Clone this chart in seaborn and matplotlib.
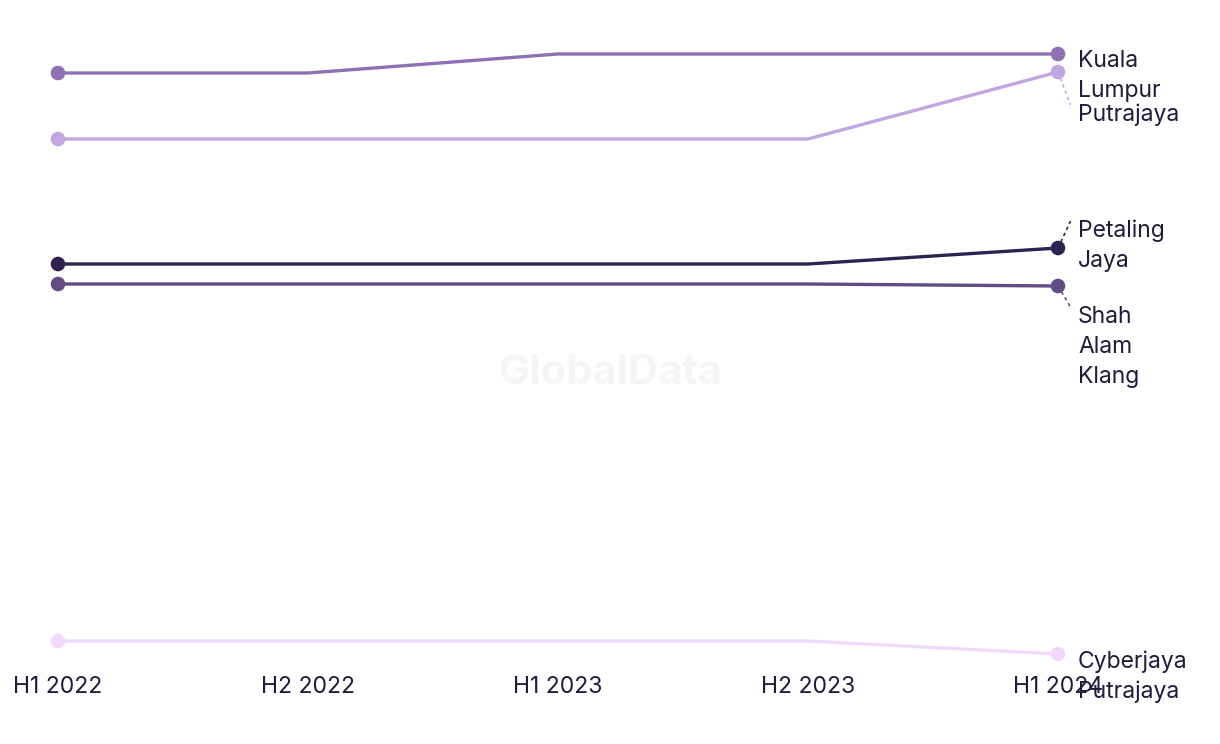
import matplotlib
matplotlib.use("Agg")
import matplotlib.pyplot as plt
import seaborn as sns
import numpy as np
import pandas as pd

periods = ["H1 2022", "H2 2022", "H1 2023", "H2 2023", "H1 2024"]
kuala_lumpur = [62.7, 62.7, 64.6, 64.6, 64.6]
putrajaya = [56.1, 56.1, 56.1, 56.1, 62.8]
petaling_jaya = [43.6, 43.6, 43.6, 43.6, 45.2]
shah_alam_klang = [41.6, 41.6, 41.6, 41.6, 41.4]
cyberjaya_putrajaya = [5.9, 5.9, 5.9, 5.9, 4.6]

series_names = ["Kuala Lumpur", "Putrajaya", "Petaling Jaya", "Shah Alam Klang", "Cyberjaya Putrajaya"]
series_labels = ["Kuala\nLumpur", "Putrajaya", "Petaling\nJaya", "Shah\nAlam\nKlang", "Cyberjaya\nPutrajaya"]
label_y = [63.9, 58.5, 46.9, 38.3, 3.8]
colors = ["#8e71b3", "#c2a6e2", "#2e2250", "#614c86", "#f0d9fa"]

values = [kuala_lumpur, putrajaya, petaling_jaya, shah_alam_klang, cyberjaya_putrajaya]
rows = []
for name, vals in zip(series_names, values):
    for i, v in enumerate(vals):
        rows.append({"period": i, "city": name, "value": v})
df = pd.DataFrame(rows)

sns.set_style("white")
plt.rcParams["font.family"] = ["Inter", "DejaVu Sans"]
text_color = "#1f1b3a"

fig = plt.figure(figsize=(12.2, 7.44), dpi=100)
ax = fig.add_axes([0, (744 - 665) / 744, 1, 665 / 744])

palette = dict(zip(series_names, colors))
sns.lineplot(data=df, x="period", y="value", hue="city", palette=palette,
             linewidth=2.4, legend=False, ax=ax)
ends = df[df["period"].isin([0, len(periods) - 1])]
sns.scatterplot(data=ends, x="period", y="value", hue="city", palette=palette,
                s=110, edgecolor="none", legend=False, ax=ax, zorder=5)

last = len(periods) - 1
line_step = 3.0  # gap between label lines, in data units
for name, lab, ly, col, vals in zip(series_names, series_labels, label_y, colors, values):
    for k, part in enumerate(lab.split("\n")):
        ax.text(last + 0.08, ly - k * line_step, part, ha="left", va="center",
                fontsize=16.5, color=text_color)
    if abs(vals[-1] - ly) > 1.5 and name != "Cyberjaya Putrajaya":
        # dashed leader from end point towards label
        ax.plot([last, last + 0.05], [vals[-1], ly + 1.0], ls=(0, (2, 2)), color=col, lw=1.2)

ax.text(0.5, (665 - 373) / 665, "GlobalData", transform=ax.transAxes,
        ha="center", va="center", fontsize=30, fontweight="bold", color="#f5f5f5", zorder=0)

ax.set_xlim(-58 / 250, (1220 - 58) / 250)
ax.set_ylim(3.5, 70)
ax.set_xticks(range(len(periods)))
ax.set_xticklabels(periods, fontsize=16.5, color=text_color)
ax.set_yticks([])
ax.tick_params(axis="x", length=0, pad=8)
ax.set_xlabel("")
ax.set_ylabel("")
for s in ax.spines.values():
    s.set_visible(False)
ax.patch.set_alpha(0)

fig.savefig("out.png", dpi=100)
